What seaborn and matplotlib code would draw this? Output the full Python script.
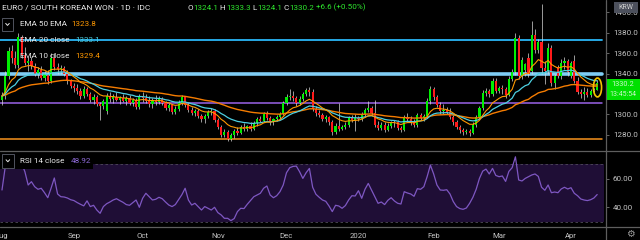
import numpy as np
import pandas as pd
import matplotlib
matplotlib.use("Agg")
import matplotlib.pyplot as plt
import seaborn as sns
from matplotlib.patches import Rectangle, Ellipse
from matplotlib.lines import Line2D

# ---------------- data ----------------
opens = [1314,1318,1338,1362,1355,1348,1376,1358,1350,1352,1347,1340,1343,1336,1340,1333,1355,1346,1344,1345,
         1340,1333,1328,1326,1323,1318,1325,1320,1314,1317,1310,1308,1303,1318,1315,1317,1314,1316,1313,1316,
         1311,1314,1307,1317,1316,1313,1310,1314,1312,1315,1311,1306,1309,1302,1305,1311,1317,1309,1304,1301,
         1303,1298,1295,1298,1302,1303,1294,1288,1280,1283,1276,1280,1284,1282,1288,1286,1289,1286,1291,1295,
         1293,1300,1296,1292,1295,1297,1300,1311,1317,1318,1316,1311,1315,1320,1324,1322,1305,1301,1299,1295,
         1297,1292,1283,1289,1286,1288,1290,1296,1294,1296,1295,1300,1304,1306,1301,1290,1287,1290,1285,1289,
         1291,1292,1287,1285,1297,1295,1292,1290,1299,1296,1298,1313,1325,1317,1309,1303,1304,1302,1297,1292,
         1288,1285,1283,1284,1282,1290,1297,1306,1321,1323,1320,1333,1323,1326,1325,1319,1335,1341,1375,1338,
         1343,1355,1342,1378,1363,1371,1345,1342,1365,1331,1346,1338,1350,1352,1338,1352,1333,1322,1320,1322,
         1319,1323,1324.1]
highs = [1322,1342,1366,1368,1362,1380,1378,1366,1356,1356,1350,1346,1347,1342,1343,1360,1360,1350,1348,1347,
         1343,1335,1331,1330,1326,1328,1327,1322,1320,1319,1312,1315,1321,1322,1320,1322,1318,1320,1318,1319,
         1316,1316,1320,1322,1320,1318,1316,1319,1318,1317,1313,1311,1310,1308,1314,1319,1318,1311,1307,1305,
         1305,1300,1300,1304,1306,1305,1296,1290,1286,1285,1282,1286,1288,1290,1291,1290,1292,1293,1297,1298,
         1302,1303,1298,1296,1299,1302,1313,1320,1325,1323,1318,1318,1322,1326,1327,1325,1308,1304,1301,1299,
         1298,1294,1291,1311,1290,1292,1298,1299,1300,1298,1302,1306,1313,1308,1314,1293,1292,1292,1291,1293,
         1294,1294,1289,1299,1301,1298,1295,1301,1301,1300,1316,1328,1327,1319,1312,1310,1307,1306,1299,1294,
         1290,1287,1286,1286,1292,1299,1308,1324,1326,1325,1336,1336,1328,1329,1327,1338,1344,1380,1378,1356,
         1350,1360,1391,1384,1374,1408,1352,1370,1368,1340,1348,1354,1356,1354,1352,1358,1337,1325,1327,1326,
         1325,1326,1333.3]
lows = [1309,1315,1335,1350,1345,1345,1355,1348,1342,1344,1338,1336,1334,1333,1330,1331,1343,1340,1340,1338,
        1330,1326,1322,1320,1315,1316,1318,1312,1310,1308,1294,1305,1300,1312,1311,1313,1310,1312,1309,1309,
        1308,1305,1305,1312,1311,1307,1306,1309,1310,1309,1304,1303,1300,1300,1303,1309,1307,1302,1299,1298,
        1296,1292,1291,1296,1299,1292,1286,1278,1278,1274,1274,1277,1280,1281,1284,1284,1284,1285,1289,1292,
        1292,1294,1290,1290,1293,1295,1299,1309,1314,1313,1308,1309,1313,1318,1318,1303,1298,1297,1293,1292,
        1290,1280,1281,1284,1285,1286,1288,1292,1284,1293,1293,1297,1302,1299,1288,1285,1285,1283,1284,1287,
        1288,1285,1283,1284,1293,1290,1288,1288,1294,1293,1296,1310,1314,1307,1300,1300,1300,1295,1290,1286,
        1282,1280,1281,1279,1281,1288,1295,1304,1318,1317,1318,1321,1321,1320,1316,1318,1333,1339,1335,1335,
        1338,1337,1340,1360,1360,1340,1330,1340,1328,1325,1336,1335,1344,1338,1336,1331,1320,1316,1314,1317,
        1317,1322,1324.1]
closes = [1318,1338,1362,1355,1348,1376,1358,1350,1352,1347,1340,1343,1336,1340,1333,1355,1346,1344,1345,1340,
          1333,1328,1326,1323,1318,1325,1320,1314,1317,1310,1308,1313,1318,1315,1317,1314,1316,1313,1316,1311,
          1314,1307,1317,1316,1313,1310,1314,1312,1315,1311,1306,1309,1302,1305,1311,1317,1309,1304,1301,1303,
          1298,1295,1298,1302,1303,1294,1288,1280,1283,1276,1280,1284,1282,1288,1286,1289,1286,1291,1295,1293,
          1300,1296,1292,1295,1297,1300,1311,1317,1318,1316,1311,1315,1320,1324,1322,1305,1301,1299,1295,1297,
          1292,1283,1289,1286,1288,1290,1296,1294,1296,1295,1300,1304,1306,1301,1290,1287,1290,1285,1289,1291,
          1292,1287,1285,1297,1295,1292,1290,1299,1296,1298,1313,1325,1317,1309,1303,1304,1302,1297,1292,1288,
          1285,1283,1284,1282,1290,1297,1306,1321,1323,1320,1333,1323,1326,1325,1319,1335,1341,1375,1338,1353,
          1349,1340,1378,1363,1371,1345,1342,1365,1331,1338,1338,1350,1352,1341,1350,1333,1322,1320,1322,1319,
          1323,1324,1330.2]
rsi = [52.1,68.4,67.2,69.5,71.9,68.4,70.7,64.9,55.6,57.9,54.4,52.6,53.3,50.2,46.7,53.3,60.5,49.3,47.4,47.2,
       46.5,45.3,44.7,43.3,42.1,41.0,44.5,40.5,41.4,38.1,35.8,40.5,42.5,43.7,45.1,46.0,44.7,43.5,41.9,41.4,
       43.3,45.1,40.0,46.3,49.8,47.4,45.1,45.6,47.0,46.0,43.7,41.6,40.5,41.9,45.3,48.8,53.3,45.1,41.6,42.8,
       40.5,38.1,40.5,39.3,38.1,40.0,36.3,34.7,32.3,32.3,30.7,32.1,37.0,39.3,39.1,42.1,44.7,47.4,48.6,49.8,
       53.3,54.9,48.6,46.7,48.1,50.9,55.6,64.2,67.7,68.6,68.8,64.9,60.2,64.2,67.2,54.0,49.1,47.0,45.1,44.2,
       40.9,37.0,41.4,40.9,39.3,41.2,45.1,48.1,47.9,51.6,46.3,52.6,56.7,52.1,47.4,42.8,43.7,41.9,44.9,46.7,
       44.4,42.8,42.3,50.9,50.0,49.3,47.7,53.0,52.6,54.4,61.4,69.5,63.3,55.6,52.1,51.9,52.3,49.3,44.0,40.5,
       39.1,38.6,39.5,42.8,47.0,52.6,60.2,65.3,66.7,63.3,67.2,62.3,61.4,61.9,58.1,65.1,67.7,75.3,59.1,58.4,
       60.2,61.4,62.6,63.3,61.6,54.0,51.9,55.6,50.2,50.7,50.2,52.8,54.0,52.8,53.7,49.8,48.1,45.8,45.1,44.7,
       45.3,46.5,48.92]
month_pos = [0, 22, 43, 66, 87, 109, 132, 152, 174]
month_labels = ["Aug", "Sep", "Oct", "Nov", "Dec", "2020", "Feb", "Mar", "Apr"]
price_ticks = [1280, 1300, 1340, 1360, 1380, 1400]
rsi_ticks = [40, 60]
hlines = {"cyan_top": 1372.8, "band": 1339.6, "purple": 1310.8, "orange": 1275.5}
ema_labels = {"EMA 50 EMA": "1323.8", "EMA 20 close": "1333.1", "EMA 10 close": "1329.4"}
rsi_label_value = "48.92"

# ---------------- style ----------------
sns.set_theme(style="dark", rc={"axes.facecolor": "black", "figure.facecolor": "black"})
plt.rcParams["font.family"] = ["Roboto", "DejaVu Sans"]

W, H = 640, 240
def fx(x): return x / W
def fy(y): return 1 - y / H

fig = plt.figure(figsize=(6.4, 2.4), dpi=100, facecolor="black")
ax = fig.add_axes([0, fy(150), 606 / W, 150 / H])
axr = fig.add_axes([0, fy(227), 606 / W, 76 / H])

x = np.arange(len(closes))
df = pd.DataFrame({"x": x, "open": opens, "high": highs, "low": lows, "close": closes, "rsi": rsi})
df["ema10"] = df["close"].ewm(span=10, adjust=False).mean()
df["ema20"] = df["close"].ewm(span=20, adjust=False).mean()
df["ema50"] = df["close"].ewm(span=50, adjust=False).mean()

XL = (-0.61, 184.7)
GREEN = "#00ee00"
RED = "#ff1a1a"

# main panel
for a in (ax, axr):
    a.set_facecolor("black")
    a.set_xlim(*XL)
    a.grid(False)
    for s in a.spines.values():
        s.set_visible(False)
ax.set_ylim(1265.0, 1412.06)
axr.set_ylim(26.22, 79.37)

xm = 601.7 / 606
ax.axhline(hlines["cyan_top"], xmax=xm, color="#29b6f6", lw=1.3, zorder=1)
ax.axhline(hlines["band"], xmax=xm, color="#7fcdf5", lw=2.6, zorder=1)
ax.axhline(hlines["purple"], xmax=xm, color="#9a62e8", lw=1.1, zorder=1)
ax.axhline(hlines["orange"], xmax=xm, color="#f7931e", lw=1.1, zorder=1)

ax.vlines(df["x"], df["low"], df["high"], color="#d8d8d8", lw=0.5, zorder=2)
up = df["close"] >= df["open"]
body_bot = np.minimum(df["open"], df["close"])
body_h = np.maximum(np.abs(df["close"] - df["open"]), 0.8)
ax.bar(df["x"], body_h, bottom=body_bot, width=0.66,
       color=np.where(up, GREEN, RED), linewidth=0, zorder=3)

sns.lineplot(data=df, x="x", y="ema50", ax=ax, color="#f57c00", lw=1.0, zorder=4)
sns.lineplot(data=df, x="x", y="ema20", ax=ax, color="#4dd0e1", lw=0.9, zorder=4)
sns.lineplot(data=df, x="x", y="ema10", ax=ax, color="#ff9800", lw=0.8, zorder=4)

ax.add_patch(Ellipse((182.1, 1326.3), 2.5, 18.5, fill=False, ec="#f2c200", lw=1.2, zorder=5))

ax.yaxis.tick_right()
ax.set_yticks(price_ticks)
ax.set_yticklabels([f"{v:.1f}" for v in price_ticks])
ax.tick_params(axis="y", length=2, width=0.6, color="#777777", pad=3, labelsize=5.8, labelcolor="#c4c4c4")
ax.set_xticks([])
ax.set_xlabel("")
ax.set_ylabel("")

# RSI panel
axr.axhspan(30, 70, xmax=604 / 606, color="#1f0e36", lw=0, zorder=0)
axr.axhline(70, xmax=604 / 606, color="#4f4a5a", lw=0.6, ls=(0, (3, 3)), zorder=1)
axr.axhline(30, xmax=604 / 606, color="#4f4a5a", lw=0.6, ls=(0, (3, 3)), zorder=1)
sns.lineplot(data=df, x="x", y="rsi", ax=axr, color="#7e57c2", lw=0.9, zorder=3)
axr.yaxis.tick_right()
axr.set_yticks(rsi_ticks)
axr.set_yticklabels([f"{v:.2f}" for v in rsi_ticks])
axr.tick_params(axis="y", length=2, width=0.6, color="#777777", pad=3, labelsize=5.8, labelcolor="#c4c4c4")
axr.set_xticks(month_pos)
axr.set_xticklabels(month_labels)
axr.tick_params(axis="x", length=2, width=0.6, color="#777777", pad=2.5, labelsize=5.6, labelcolor="#c4c4c4")
axr.set_xlabel("")
axr.set_ylabel("")

# frame lines
LC = "#5e5e5e"
fig.add_artist(Line2D([fx(606), fx(606)], [fy(0), fy(240)], color=LC, lw=0.9, transform=fig.transFigure))
fig.add_artist(Line2D([0, 1], [fy(150.5), fy(150.5)], color=LC, lw=0.9, transform=fig.transFigure))
fig.add_artist(Line2D([0, 1], [fy(227.3), fy(227.3)], color=LC, lw=0.9, transform=fig.transFigure))

# ---------------- texts ----------------
renderer = fig.canvas.get_renderer()
def chain(x0, y0, parts, size, weight="normal"):
    xx = x0
    for s, c in parts:
        t = fig.text(fx(xx), fy(y0), s, color=c, fontsize=size, va="center", ha="left",
                     fontweight=weight, zorder=10)
        xx += t.get_window_extent(renderer=renderer).width
    return xx

WH = "#e8e8e8"
chain(1.7, 7.5, [("EURO / SOUTH KOREAN WON · 1D · IDC", WH)], 6.0)
TG = "#2ee62e"
chain(188, 7.5, [("O", WH), ("1324.1", TG), (" H", WH), ("1333.3", TG), (" L", WH), ("1324.1", TG),
                 (" C", WH), ("1330.2", TG), (" +6.6 (+0.50%)", TG)], 5.9)

def chevron_box(x0, y0, x1, y1):
    fig.add_artist(Rectangle((fx(x0), fy(y1)), (x1 - x0) / W, (y1 - y0) / H, transform=fig.transFigure,
                             facecolor="black", edgecolor="#50535e", lw=0.7, zorder=9))
    cx, cy = (x0 + x1) / 2, (y0 + y1) / 2
    fig.add_artist(Line2D([fx(cx - 1.8), fx(cx), fx(cx + 1.8)], [fy(cy - 1.0), fy(cy + 1.0), fy(cy - 1.0)],
                          color=WH, lw=0.7, transform=fig.transFigure, zorder=10))

chevron_box(1.7, 18.3, 13.3, 30.5)
ema_colors = ["#ff9800", "#4dd0e1", "#ff9800"]
ema_rows = [23.5, 39.5, 55.5]
ema_vx = [71.7, 75, 75]
for (name, val), yy, col, vx in zip(ema_labels.items(), ema_rows, ema_colors, ema_vx):
    fig.text(fx(19.5), fy(yy), name, color=WH, fontsize=5.9, va="center", ha="left", zorder=10)
    fig.text(fx(vx), fy(yy), val, color=col, fontsize=5.9, va="center", ha="left", zorder=10)

# RSI legend
fig.add_artist(Rectangle((0, fy(168.5)), 93 / W, 15 / H, transform=fig.transFigure,
                         facecolor="black", edgecolor="none", zorder=8))
chevron_box(1.7, 153.5, 14, 168)
fig.text(fx(19.5), fy(161), "RSI 14 close", color=WH, fontsize=5.9, va="center", ha="left", zorder=10)
fig.text(fx(70.5), fy(161), rsi_label_value, color="#8e6ad8", fontsize=5.9, va="center", ha="left", zorder=10)

# last price label
fig.add_artist(Rectangle((fx(607), fy(100)), 33 / W, 21 / H, transform=fig.transFigure,
                         facecolor="#00e000", edgecolor="none", zorder=9))
fig.text(fx(622.5), fy(84.5), "1330.2", color="#c9f7c9", fontsize=5.3, va="center", ha="center", zorder=10)
fig.text(fx(622.5), fy(94.5), "13:45:54", color="#c9f7c9", fontsize=5.0, va="center", ha="center", zorder=10)

# KRW button
fig.add_artist(Rectangle((fx(613.5), fy(12.5)), 24 / W, 10.5 / H, transform=fig.transFigure,
                         facecolor="#4c505c", edgecolor="none", zorder=9))
fig.text(fx(625.5), fy(7.3), "KRW", color="#d0d0d0", fontsize=5.0, va="center", ha="center", zorder=10)

# gear icon
fig.text(fx(630), fy(234), "\u2699", color="#9a9a9a", fontsize=7, va="center", ha="center",
         family="DejaVu Sans", zorder=10)

fig.savefig("out.png", dpi=100, facecolor="black")
